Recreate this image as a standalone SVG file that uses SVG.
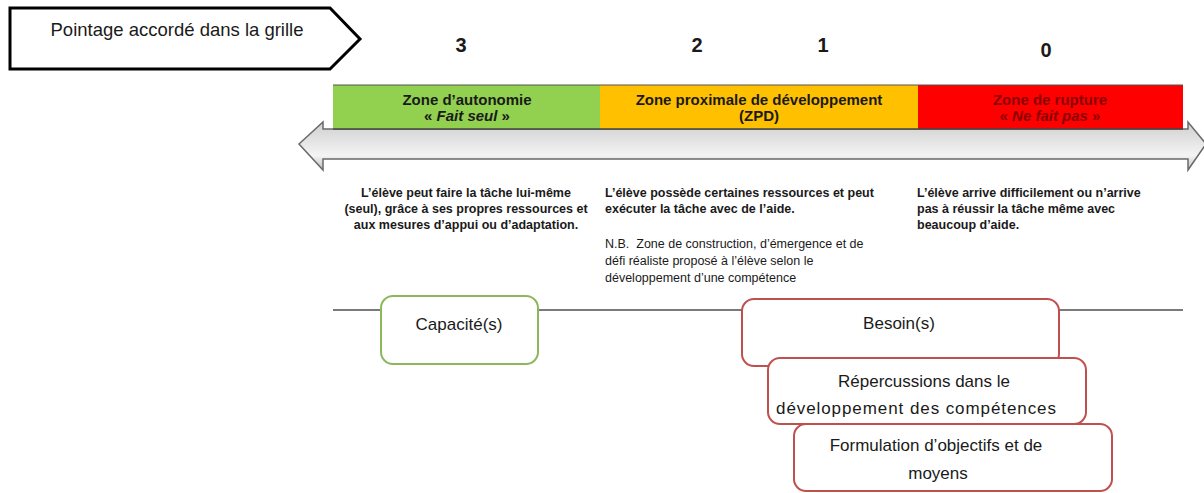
<svg xmlns="http://www.w3.org/2000/svg" width="1204" height="493" viewBox="0 0 1204 493">
<style>
text{font-family:"Liberation Sans",Arial,sans-serif;fill:#1a1a1a}
.num{font-size:20px;font-weight:bold;text-anchor:middle}
.zone{font-size:15px;font-weight:bold;text-anchor:middle}
.desc{font-size:12.5px;font-weight:bold}
.nb{font-size:12.5px;font-weight:normal}
.box{fill:#fff;stroke-width:2}
.g{stroke:#8cb85c}
.r{stroke:#c0504d}
.bt{font-size:17px;text-anchor:middle}
</style>
<defs>
<linearGradient id="ag" x1="0" y1="0" x2="0" y2="1">
<stop offset="0" stop-color="#cfcfcf"/>
<stop offset="0.7" stop-color="#f4f4f4"/>
<stop offset="1" stop-color="#bdbdbd"/>
</linearGradient>
</defs>
<rect width="1204" height="493" fill="#fff"/>

<g id="header">
<path d="M10,8 H330 L360,39 L330,69 H10 Z" fill="#fff" stroke="#000" stroke-width="3"/>
<text x="177" y="36" font-size="18.5" text-anchor="middle">Pointage accordé dans la grille</text>
</g>

<g id="scores">
<text class="num" x="461" y="52">3</text>
<text class="num" x="697" y="52">2</text>
<text class="num" x="823" y="52">1</text>
<text class="num" x="1046" y="57">0</text>
</g>

<g id="axis">
<path d="M299,144 L323,122 V129 H1188 V122 L1206,144 L1188,170 V159 H323 V170 Z" fill="url(#ag)" stroke="#6a6a6a" stroke-width="1.5"/>
</g>

<g id="zones">
<rect x="333" y="85" width="267" height="44" fill="#92d050"/>
<rect x="600" y="85" width="318" height="44" fill="#ffc000"/>
<rect x="918" y="85" width="265" height="44" fill="#ff0000"/>
<line x1="333" y1="85" x2="1183" y2="85" stroke="#555" stroke-width="1"/>
<line x1="333" y1="129" x2="1183" y2="129" stroke="#444" stroke-width="1.5"/>
<text class="zone" x="467" y="105">Zone d’autonomie</text>
<text class="zone" x="467" y="121">« <tspan font-style="italic">Fait seul</tspan> »</text>
<text class="zone" x="759" y="105">Zone proximale de développement</text>
<text class="zone" x="759" y="121">(ZPD)</text>
<text class="zone" x="1050" y="105" style="fill:#8b0000">Zone de rupture</text>
<text class="zone" x="1050" y="121" style="fill:#8b0000">« <tspan font-style="italic">Ne fait pas</tspan> »</text>
</g>

<g id="descriptions">
<text class="desc" text-anchor="middle" x="466" y="197">L’élève peut faire la tâche lui-même</text>
<text class="desc" text-anchor="middle" x="466" y="213">(seul), grâce à ses propres ressources et</text>
<text class="desc" text-anchor="middle" x="466" y="229">aux mesures d’appui ou d’adaptation.</text>
<text class="desc" x="605" y="197">L’élève possède certaines ressources et peut</text>
<text class="desc" x="605" y="213">exécuter la tâche avec de l’aide.</text>
<text class="nb" x="605" y="248" xml:space="preserve">N.B.  Zone de construction, d’émergence et de</text>
<text class="nb" x="605" y="265">défi réaliste proposé à l’élève selon le</text>
<text class="nb" x="605" y="282">développement d’une compétence</text>
<text class="desc" x="917" y="197">L’élève arrive difficilement ou n’arrive</text>
<text class="desc" x="917" y="213">pas à réussir la tâche même avec</text>
<text class="desc" x="917" y="229">beaucoup d’aide.</text>
</g>

<g id="connectors">
<line x1="333" y1="310" x2="1183" y2="310" stroke="#7a7a7a" stroke-width="2"/>
</g>

<g id="capacites">
<rect class="box g" x="381" y="296" width="157" height="68" rx="12"/>
<text class="bt" x="459" y="330">Capacité(s)</text>
</g>
<g id="besoins">
<rect class="box r" x="742" y="299" width="317" height="67" rx="12"/>
<text class="bt" x="899" y="329">Besoin(s)</text>
</g>
<g id="repercussions">
<rect class="box r" x="768" y="358" width="318" height="66" rx="12"/>
<text class="bt" x="924" y="387">Répercussions dans le</text>
<text class="bt" x="916" y="414" textLength="280" lengthAdjust="spacing">développement des compétences</text>
</g>
<g id="formulation">
<rect class="box r" x="794" y="424" width="318" height="67" rx="12"/>
<text class="bt" x="936" y="451">Formulation d’objectifs et de</text>
<text class="bt" x="938" y="479">moyens</text>
</g>
</svg>
